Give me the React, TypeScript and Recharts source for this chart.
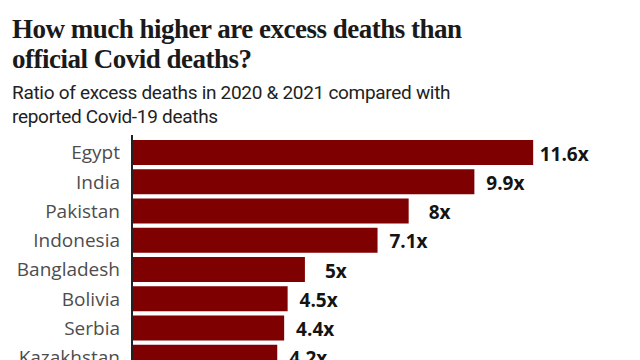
import React from 'react';
import { BarChart, Bar, XAxis, YAxis, LabelList } from 'recharts';

const countries = ['Egypt', 'India', 'Pakistan', 'Indonesia', 'Bangladesh', 'Bolivia', 'Serbia', 'Kazakhstan'];
const ratios = [11.6, 9.9, 8, 7.1, 5, 4.5, 4.4, 4.2];
const ratioLabels = ['11.6x', '9.9x', '8x', '7.1x', '5x', '4.5x', '4.4x', '4.2x'];

const data = countries.map((country, i) => ({ country, ratio: ratios[i], label: ratioLabels[i] }));

const BAR_COLOR = '#7f0000';
const SANS = '"Open Sans", "Noto Sans", sans-serif';

function ValueLabel(props: any) {
  const { x, y, width, height, value } = props;
  return (
    <text
      x={x + width + 31}
      y={y + height / 2}
      dy={1}
      textAnchor="middle"
      dominantBaseline="central"
      fontFamily={SANS}
      fontWeight={700}
      fontSize={19}
      fill="#141414"
    >
      {value}
    </text>
  );
}

export default function App() {
  return (
    <div style={{ position: 'absolute', left: 0, top: 0, width: 640, height: 360, overflow: 'hidden', background: '#fff' }}>
      <div
        style={{
          position: 'absolute',
          left: 12,
          top: 14,
          fontFamily: '"Liberation Serif", serif',
          fontWeight: 700,
          fontSize: 27,
          lineHeight: '30px',
          letterSpacing: -0.5,
          color: '#1a1a1a',
          width: 620,
        }}
      >
        How much higher are excess deaths than
        <br />
        official Covid deaths?
      </div>
      <div
        style={{
          position: 'absolute',
          left: 12,
          top: 81,
          fontFamily: 'Roboto, sans-serif',
          fontSize: 19,
          lineHeight: '24px',
          letterSpacing: -0.3,
          color: '#222',
          width: 620,
        }}
      >
        Ratio of excess deaths in 2020 &amp; 2021 compared with
        <br />
        reported Covid-19 deaths
      </div>
      <div style={{ position: 'absolute', left: 0, top: 0 }}>
        <BarChart
          width={640}
          height={372}
          data={data}
          layout="vertical"
          margin={{ top: 135, right: 93, left: 0, bottom: 0 }}
          barSize={25}
        >
          <XAxis type="number" domain={[0, 12]} hide />
          <YAxis
            type="category"
            dataKey="country"
            width={132}
            tickLine={false}
            tickSize={0}
            tickMargin={12}
            axisLine={{ stroke: '#222', strokeWidth: 2 }}
            padding={{ top: 3, bottom: 0 }}
            tick={{ fill: '#4d4d4d', fontSize: 19, fontFamily: SANS }}
            interval={0}
          />
          <Bar dataKey="ratio" fill={BAR_COLOR} isAnimationActive={false}>
            <LabelList dataKey="label" content={ValueLabel} />
          </Bar>
        </BarChart>
      </div>
    </div>
  );
}
